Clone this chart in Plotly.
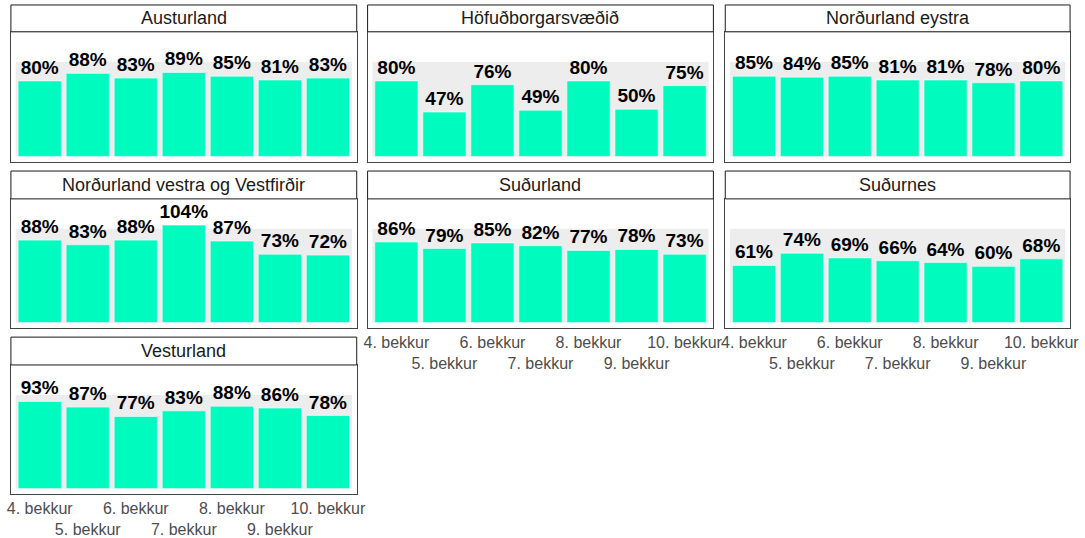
import plotly.graph_objects as go

# Data
grades = ['4. bekkur', '5. bekkur', '6. bekkur', '7. bekkur', '8. bekkur', '9. bekkur', '10. bekkur']
regions = ['Austurland', 'Höfuðborgarsvæðið', 'Norðurland eystra',
           'Norðurland vestra og Vestfirðir', 'Suðurland', 'Suðurnes', 'Vesturland']

austurland = [0.80, 0.88, 0.83, 0.89, 0.85, 0.81, 0.83]
hofudborgarsvaedid = [0.80, 0.47, 0.76, 0.49, 0.80, 0.50, 0.75]
nordurland_eystra = [0.85, 0.84, 0.85, 0.81, 0.81, 0.78, 0.80]
nordurland_vestra = [0.88, 0.83, 0.88, 1.04, 0.87, 0.73, 0.72]
sudurland = [0.86, 0.79, 0.85, 0.82, 0.77, 0.78, 0.73]
sudurnes = [0.61, 0.74, 0.69, 0.66, 0.64, 0.60, 0.68]
vesturland = [0.93, 0.87, 0.77, 0.83, 0.88, 0.86, 0.78]

values = [austurland, hofudborgarsvaedid, nordurland_eystra, nordurland_vestra,
          sudurland, sudurnes, vesturland]

W, H = 1085, 538
BAR = '#00FBBF'
FONT = 'Liberation Sans, Arial, sans-serif'

# pixel layout of the facet grid
col_px = [(7, 357), (368, 718), (730, 1079)]
row_px = [(5, 32, 163), (172, 200, 330), (339, 367, 497)]  # strip top, panel top, panel bottom

# two-row (dodged) tick labels
ticktext = [g if k % 2 == 0 else '\u00a0<br>' + g for k, g in enumerate(grades)]

fig = go.Figure()
shapes = []
annotations = []

for i, (name, vals) in enumerate(zip(regions, values)):
    r, c = divmod(i, 3)
    n = '' if i == 0 else str(i + 1)
    xa, ya = 'x' + n, 'y' + n
    x0, x1 = col_px[c]
    st, pt, pb = row_px[r]
    bottom = i in (4, 5, 6)

    fig.add_trace(go.Bar(
        x=grades, y=vals, xaxis=xa, yaxis=ya, width=0.9,
        marker=dict(color=BAR, line=dict(color='#F4FFFB', width=0.6)),
        texttemplate='%{y:.0%}', textposition='outside', constraintext='none',
        textfont=dict(family=FONT, size=19, color='black', weight='bold'),
        cliponaxis=False, showlegend=False,
        hovertemplate='%{x}: %{y:.0%}<extra>' + name + '</extra>'
    ))

    fig.layout['xaxis' + n] = dict(
        domain=[x0 / W, x1 / W], anchor=ya, type='category',
        categoryorder='array', categoryarray=grades,
        range=[-0.6, 6.6], showgrid=False, zeroline=False,
        showline=True, mirror=True, linecolor='#444444', linewidth=1,
        ticks='', tickvals=grades, ticktext=ticktext, showticklabels=bottom,
        tickangle=0, tickfont=dict(family=FONT, size=16, color='#4D4D4D'),
        fixedrange=True
    )
    fig.layout['yaxis' + n] = dict(
        domain=[1 - pb / H, 1 - pt / H], anchor=xa,
        range=[-0.06, 1.32], showgrid=False, zeroline=False,
        showline=True, mirror=True, linecolor='#444444', linewidth=1,
        showticklabels=False, ticks='', fixedrange=True
    )

    # grey band behind bars (0-100%)
    shapes.append(dict(type='rect', xref=xa, yref=ya, x0=-0.5, x1=6.5, y0=0, y1=1,
                       fillcolor='#EDEDED', line=dict(width=0), layer='below'))
    # strip
    shapes.append(dict(type='rect', xref='paper', yref='paper',
                       x0=x0 / W, x1=x1 / W, y0=1 - pt / H, y1=1 - st / H,
                       fillcolor='white', line=dict(color='#1A1A1A', width=1)))
    annotations.append(dict(xref='paper', yref='paper', x=(x0 + x1) / 2 / W,
                            y=1 - (st + pt) / 2 / H, text=name, showarrow=False,
                            xanchor='center', yanchor='middle',
                            font=dict(family=FONT, size=18, color='#1A1A1A')))

fig.update_layout(
    width=W, height=H,
    margin=dict(l=0, r=0, t=0, b=0),
    paper_bgcolor='white', plot_bgcolor='white',
    shapes=shapes, annotations=annotations,
    bargap=0.1
)

fig.write_html('out.html', config={'displayModeBar': False},
               post_script="document.body.style.margin='0';")
